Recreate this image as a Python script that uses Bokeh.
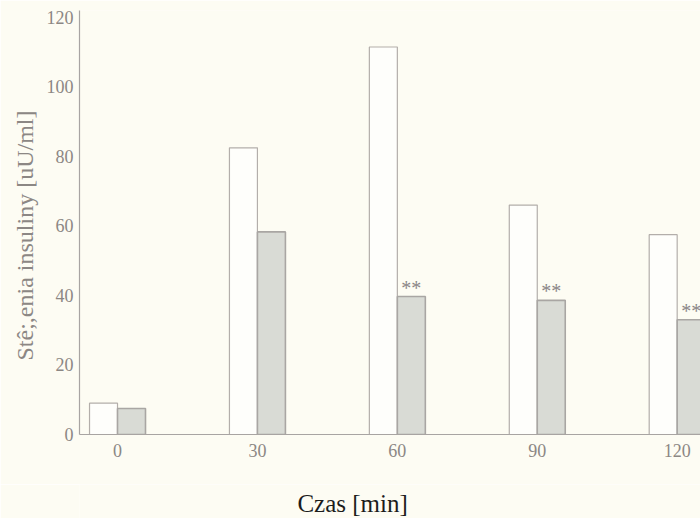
from bokeh.plotting import figure
from bokeh.layouts import column
from bokeh.models import ColumnDataSource, FixedTicker, Range1d, Title
from bokeh.core.properties import value
from bokeh.embed import file_html
from bokeh.resources import INLINE

# Insulin concentration over time, two groups
times = [0, 30, 60, 90, 120]
group_a = [9.0, 82.5, 111.5, 66.0, 57.5]
group_b = [7.5, 58.3, 39.7, 38.6, 33.0]
marks = ["", "", "**", "**", "**"]
tick_values = [0, 20, 40, 60, 80, 100, 120]

bar_w = 6.0
bg = "#fdfcf3"
grey_txt = "#8c8784"
serif = "Liberation Serif"

p = figure(width=700, height=484, output_backend="svg", toolbar_location=None,
           x_range=Range1d(-8.15, 125.0), y_range=Range1d(0, 122.0),
           min_border_left=79, min_border_right=0, min_border_top=10,
           min_border_bottom=50)
p.background_fill_color = bg
p.border_fill_color = bg
p.outline_line_color = None
p.grid.visible = False

src = ColumnDataSource(dict(
    left_a=[t - bar_w for t in times], right_a=times,
    left_b=times, right_b=[t + bar_w for t in times],
    mid_b=[t + bar_w / 2 for t in times],
    a=group_a, b=group_b, mark=marks))

p.quad(left="left_a", right="right_a", bottom=0, top="a", source=src,
       fill_color="#fefefb", line_color="#b3aeaa", line_width=1.2)
p.quad(left="left_b", right="right_b", bottom=0, top="b", source=src,
       fill_color="#d9dbd5", line_color="#a9a6a3", line_width=1.6)
p.text(x="mid_b", y="b", text="mark", source=src, text_align="center",
       text_baseline="bottom", y_offset=2, text_color="#8a8686",
       text_font=value(serif), text_font_size="20px")

# axes
for ax in (p.xaxis[0], p.yaxis[0]):
    ax.axis_line_color = "#a8a4a2"
    ax.axis_line_width = 1.2
    ax.major_tick_line_color = None
    ax.minor_tick_line_color = None
    ax.major_label_text_font = serif
    ax.major_label_text_font_size = "18px"
    ax.major_label_text_color = grey_txt

p.xaxis.ticker = FixedTicker(ticks=times)
p.xaxis.major_label_standoff = 3
p.yaxis.ticker = FixedTicker(ticks=tick_values)
p.yaxis.major_label_standoff = 0

p.add_layout(Title(text="Stê;,enia insuliny [uU/ml]", align="left", offset=74,
                   standoff=12, text_font=serif, text_font_size="24px",
                   text_font_style="normal", text_color=grey_txt), "left")

# x axis title strip under the chart, sharing the chart's x range
cap = figure(width=700, height=34, output_backend="svg", toolbar_location=None,
             x_range=p.x_range, y_range=Range1d(0, 34),
             min_border=0, x_axis_type=None, y_axis_type=None)
cap.background_fill_color = bg
cap.border_fill_color = bg
cap.outline_line_color = None
cap.grid.visible = False
cap.text(x=[50.4], y=[15], text=["Czas [min]"], text_align="center",
         text_baseline="middle", text_color="#1c1c1c",
         text_font=value(serif), text_font_size="25px")

layout = column(p, cap, spacing=0)
open("out.html", "w").write(file_html(layout, INLINE))
